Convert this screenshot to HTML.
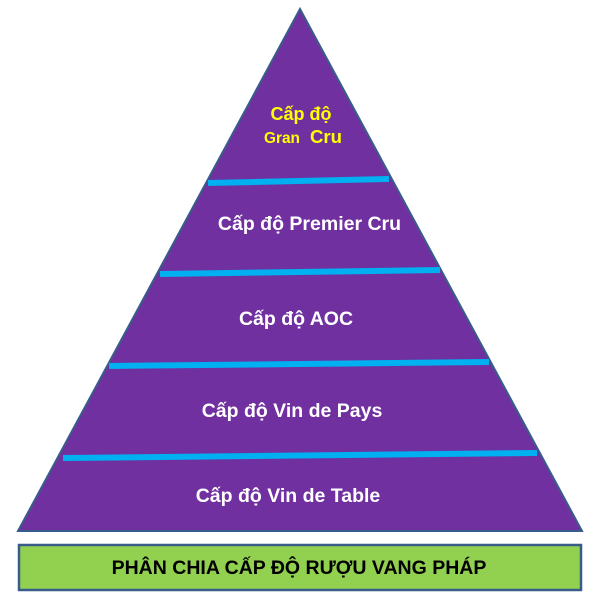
<!DOCTYPE html>
<html>
<head>
<meta charset="utf-8">
<style>
  html,body{margin:0;padding:0;background:#fff;}
  svg{display:block;}
  text{font-family:"Liberation Sans","Noto Sans CJK SC",sans-serif;font-weight:bold;}
</style>
</head>
<body>
<svg width="600" height="600" viewBox="0 0 600 600" xmlns="http://www.w3.org/2000/svg">
  <rect width="600" height="600" fill="#ffffff"/>
  <!-- pyramid -->
  <polygon points="300,9 18,531 582,531" fill="#7030a0" stroke="#385d8a" stroke-width="2" stroke-linejoin="miter"/>
  <!-- divider lines -->
  <g stroke="#00b0f0" stroke-width="6" stroke-linecap="butt">
    <line x1="208" y1="183" x2="389" y2="179"/>
    <line x1="160" y1="274" x2="440" y2="270"/>
    <line x1="109" y1="366" x2="489" y2="362"/>
    <line x1="63" y1="458" x2="537" y2="453"/>
  </g>
  <!-- labels -->
  <text x="301" y="120" font-size="18" fill="#ffff00" text-anchor="middle">Cấp độ</text>
  <text x="264" y="143" font-size="15.4" fill="#ffff00">Gran</text>
  <text x="310" y="143" font-size="18.6" fill="#ffff00">Cru</text>

  <text x="309.5" y="230" font-size="19.5" fill="#ffffff" text-anchor="middle">Cấp độ Premier Cru</text>
  <text x="296" y="325" font-size="19.5" fill="#ffffff" text-anchor="middle">Cấp độ AOC</text>
  <text x="292" y="417" font-size="19.5" fill="#ffffff" text-anchor="middle">Cấp độ Vin de Pays</text>
  <text x="288" y="502" font-size="19.5" fill="#ffffff" text-anchor="middle">Cấp độ Vin de Table</text>

  <!-- title box -->
  <rect x="19" y="545" width="562" height="45" fill="#92d050" stroke="#385d8a" stroke-width="2.5"/>
  <text x="299" y="574" font-size="19.5" fill="#000000" text-anchor="middle">PHÂN CHIA CẤP ĐỘ RƯỢU VANG PHÁP</text>
</svg>
</body>
</html>
